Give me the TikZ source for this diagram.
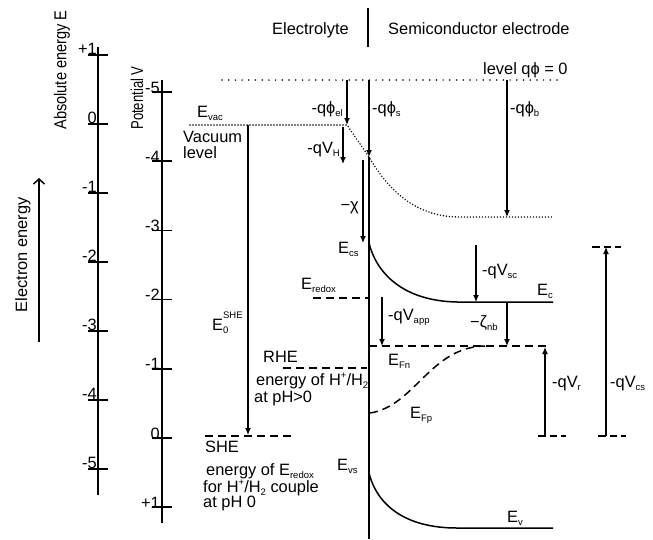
\documentclass[tikz,border=0pt]{standalone}
\usepackage{fontspec}
\setmainfont{Liberation Sans}
\usetikzlibrary{positioning,arrows.meta,calc}

\newcommand{\lo}[1]{\raisebox{-3.5pt}{\fontsize{9.5}{9.5}\selectfont #1}}
\newcommand{\hi}[1]{\raisebox{6.5pt}{\fontsize{9.5}{9.5}\selectfont #1}}

\begin{document}
\begin{tikzpicture}[x=1pt, y=-1pt,
  every node/.style={font=\fontsize{16.4}{17}\selectfont, inner sep=0pt},
  axis/.style={line width=1.5pt},
  lvl/.style={line width=1.5pt},
  dashlvl/.style={line width=1.5pt, dash pattern=on 8pt off 5pt},
  shortdash/.style={line width=1.5pt, dash pattern=on 8pt off 4pt on 7pt off 4pt},
  dotlvl/.style={line width=1.6pt, line cap=round, dash pattern=on 0pt off 3pt},
  fardots/.style={line width=1.7pt, line cap=round, dash pattern=on 0pt off 6.7pt},
  arr/.style={line width=1.2pt, -{Latex[length=7pt,width=6pt]}},
  lab/.style={anchor=base west},
  labr/.style={anchor=base east}]
\useasboundingbox (0,0) rectangle (653,539);

% energy scales
\draw[axis] (98,47) -- (98,495);
\foreach \t [count=\i from 0] in {+1,0,-1,-2,-3,-4,-5} {
  \draw[axis] (88,55+69*\i) -- (108,55+69*\i);
  \node[labr] (abs\i) at (97,54+69*\i) {\t};
}
\draw[axis] (162,80) -- (162,523);
\foreach \t [count=\i from 0] in {-5,-4,-3,-2,-1,0,+1} {
  \draw[axis] (152,92+69.2*\i) -- (172,92+69.2*\i);
  \node[labr] (pot\i) at (160,93+69.2*\i) {\t};
}
\node[rotate=90] (abstitle) at (62,70) {\scalebox{0.89}[1.05]{Absolute energy E}};
\node[rotate=90] (pottitle) at (137,98) {\scalebox{0.8}[1.05]{Potential V}};
\node[rotate=90] (eltitle) at (23,255) {Electron energy};
\coordinate (el0) at (39,342);
\coordinate (el1) at (39,178);
\draw[line width=1.5pt, -{Straight Barb[length=5pt,width=11pt]}] (el0) -- (el1);

% header
\node[lab] (elyte) at (272,34) {Electrolyte};
\node[lab] (semi) at (388,34) {Semiconductor electrode};
\draw[line width=1.3pt] (368,8) -- (368,47);
\node[lab] (zero) at (483,74) {level qϕ = 0};

% levels
\draw[fardots] (222,80) -- (562,80);
\draw[dotlvl] (190,125) -- (347,125) -- (369,157)
  .. controls (392,196) and (420,217) .. (460,217) -- (553,217);
\draw[lvl] (369,157) -- (369,539);
\draw[lvl] (369,243) .. controls (377,275) and (405,301) .. (457,302) -- (553,302);
\draw[lvl] (369,473) .. controls (377,505) and (405,528) .. (457,528) -- (553,528);
\draw[dashlvl] (369,346) -- (548,346);
\draw[dashlvl] (370,413) .. controls (415,406) and (430,347) .. (485,346);
\draw[dashlvl] (313,298) -- (368,298);
\draw[dashlvl] (283,368) -- (367,368);
\draw[dashlvl] (205,436) -- (293,436);
\draw[shortdash] (538,436) -- (566,436);
\draw[shortdash] (598,436) -- (626,436);
\draw[shortdash] (592,247) -- (621,247);

% arrow ends
\coordinate (qel0) at (347,80);   \coordinate (qel1) at (347,125);
\coordinate (qs0) at (369,80);    \coordinate (qs1) at (369,157);
\coordinate (qb0) at (507,80);    \coordinate (qb1) at (507,217);
\coordinate (vh0) at (343,127);   \coordinate (vh1) at (343,164);
\coordinate (chi0) at (363,160);  \coordinate (chi1) at (363,243);
\coordinate (she0) at (248,125);  \coordinate (she1) at (248,435);
\coordinate (sc0) at (476,245);   \coordinate (sc1) at (476,302);
\coordinate (nb0) at (507,302);   \coordinate (nb1) at (507,346);
\coordinate (app0) at (382,297);  \coordinate (app1) at (382,346);
\coordinate (vr0) at (545,436);   \coordinate (vr1) at (545,347);
\coordinate (vcs0) at (606,436);  \coordinate (vcs1) at (606,247);
\foreach \a in {qel,qs,qb,vh,chi,she,sc,nb,app,vr,vcs}
  \draw[arr] (\a0) -- (\a1);

% labels
\node[lab] (evac) at (197,117) {E\lo{vac}};
\node[lab] (vac1) at (183,142) {Vacuum};
\node[lab] (vac2) at (183,158) {level};
\node[labr] (phiel) at (343,113) {-qϕ\lo{el}};
\node[lab] (phis) at (372,113) {-qϕ\lo{s}};
\node[lab] (phib) at (510,113) {-qϕ\lo{b}};
\node[labr] (vhlab) at (340,153) {-qV\lo{H}};
\node[labr] (chilab) at (359,210) {−χ};
\node[lab] (ecs) at (338,253) {E\lo{cs}};
\node[lab] (eredox) at (301,289) {E\lo{redox}};
\node[lab] (eshe) at (212,330) {E\rlap{\lo{0}}\raisebox{12pt}{\fontsize{9.5}{9.5}\selectfont SHE}};
\node[lab] (rhe) at (263,362) {RHE};
\node[lab] (rhe1) at (256,385) {energy of H\hi{+}/H\lo{2}};
\node[lab] (rhe2) at (254,402) {at pH>0};
\node[lab] (she) at (205,452) {SHE};
\node[lab] (shet1) at (206,475) {energy of E\lo{redox}};
\node[lab] (shet2) at (203,492) {for H\hi{+}/H\lo{2} couple};
\node[lab] (shet3) at (203,507) {at pH 0};
\node[lab] (evs) at (337,470) {E\lo{vs}};
\node[lab] (ev) at (507,522) {E\lo{v}};
\node[lab] (ec) at (537,295) {E\lo{c}};
\node[lab] (vsc) at (482,275) {-qV\lo{sc}};
\node[lab] (zeta) at (470,327) {−ζ\lo{nb}};
\node[lab] (vapp) at (388,320) {-qV\lo{app}};
\node[lab] (efn) at (388,365) {E\lo{Fn}};
\node[lab] (efp) at (410,418) {E\lo{Fp}};
\node[lab] (vrlab) at (552,387) {-qV\lo{r}};
\node[lab] (vcslab) at (610,387) {-qV\lo{cs}};
\end{tikzpicture}
\end{document}
